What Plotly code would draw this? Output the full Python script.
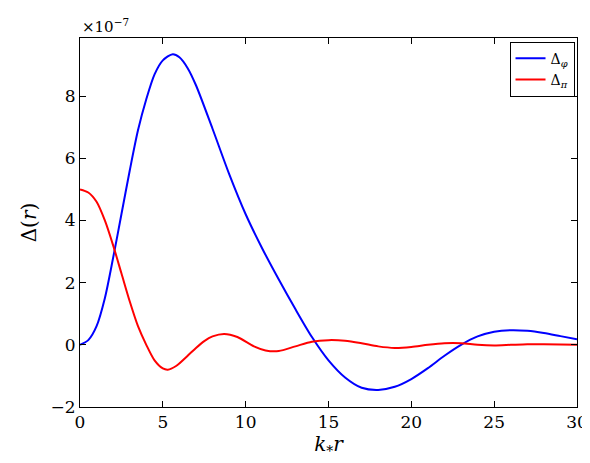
import plotly.graph_objects as go

# values in units of 1e-7
x_phi = [0, 0.5, 1, 1.5, 2, 2.5, 3, 3.5, 4, 4.5, 5, 5.6, 6, 6.5, 7, 8, 9, 10, 11, 12, 13, 14,
         15, 16, 17, 18, 19, 20, 21, 22, 23, 24, 25, 26, 27, 28, 29, 30]
d_phi = [0, 0.15, 0.6, 1.5, 2.8, 4.2, 5.6, 6.9, 7.9, 8.7, 9.15, 9.35, 9.25, 8.9, 8.35, 6.95,
         5.5, 4.2, 3.1, 2.1, 1.15, 0.25, -0.5, -1.05, -1.38, -1.45, -1.35, -1.1, -0.75,
         -0.35, 0.0, 0.27, 0.42, 0.47, 0.45, 0.38, 0.28, 0.18]
x_pi = [0, 0.5, 1, 1.5, 2, 2.5, 3, 3.5, 4, 4.5, 5, 5.3, 5.8, 6.5, 7, 7.5, 8, 8.7, 9.5, 10.5,
        11.2, 12, 13, 14, 15, 16, 17, 18, 19, 20, 21, 22, 23, 24, 25, 26, 27, 28, 30]
d_pi = [5.0, 4.9, 4.6, 4.0, 3.2, 2.3, 1.4, 0.6, 0.0, -0.5, -0.76, -0.8, -0.68, -0.35, -0.1,
        0.12, 0.27, 0.35, 0.25, -0.05, -0.18, -0.2, -0.05, 0.1, 0.15, 0.13, 0.05, -0.05,
        -0.1, -0.07, 0.0, 0.05, 0.05, 0.0, -0.02, 0.0, 0.02, 0.02, 0.0]

font = dict(family="DejaVu Serif", size=17, color="black")

fig = go.Figure()
fig.add_trace(go.Scatter(x=x_phi, y=d_phi, mode="lines", name="Δ<sub><i>φ</i></sub>",
                         line=dict(color="blue", width=2, shape="spline", smoothing=0.8)))
fig.add_trace(go.Scatter(x=x_pi, y=d_pi, mode="lines", name="Δ<sub><i>π</i></sub>",
                         line=dict(color="red", width=2, shape="spline", smoothing=0.8)))

axis = dict(showgrid=False, zeroline=False, showline=True, linecolor="black", linewidth=1,
            mirror="ticks", ticks="inside", ticklen=6, tickcolor="black", automargin=False)
fig.update_xaxes(range=[0, 30], dtick=5, title=dict(text="<i>k</i><sub>*</sub><i>r</i>", standoff=4), **axis)
fig.update_yaxes(range=[-2, 9.87], tickvals=[-2, 0, 2, 4, 6, 8], ticktext=["−2", "0", "2", "4", "6", "8"],
                 title=dict(text="Δ(<i>r</i>)", standoff=8), **axis)

fig.add_annotation(text="×10<sup>−7</sup>", xref="paper", yref="paper", x=0, y=1.0,
                   xanchor="left", yanchor="bottom", showarrow=False, font=dict(family="DejaVu Serif", size=15))

fig.update_layout(
    width=590, height=463, font=font,
    plot_bgcolor="white", paper_bgcolor="white",
    margin=dict(l=72, r=21, t=30, b=64, autoexpand=False),
    legend=dict(x=0.995, y=0.99, xanchor="right", yanchor="top", bordercolor="black", borderwidth=1,
                bgcolor="white", font=dict(family="DejaVu Serif", size=14), tracegroupgap=0),
)

fig.write_html("out.html")
